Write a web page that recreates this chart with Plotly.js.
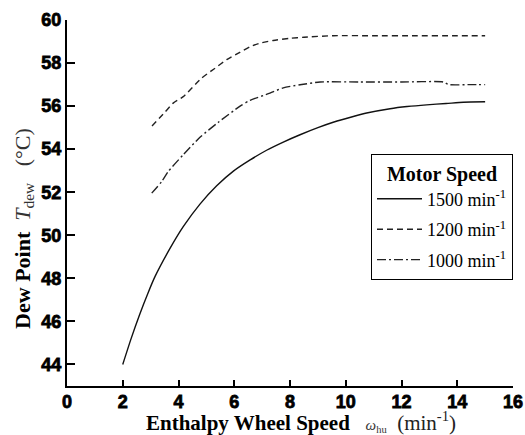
<!DOCTYPE html>
<html>
<head>
<meta charset="utf-8">
<script src="https://cdn.plot.ly/plotly-3.0.1.min.js"></script>
<style>html,body{margin:0;padding:0;background:#fff;}#chart{width:525px;height:435px;}</style>
</head>
<body>
<div id="chart"></div>
<script>
// Motor speed 1500 min^-1 (solid)
const x1500 = [2.0, 2.3, 2.6, 2.9, 3.16, 3.7, 4.17, 4.77, 5.37, 5.97, 6.57, 7.16, 7.76, 8.36, 9.0, 9.55, 10.27, 10.75, 11.59, 12.2, 12.9, 13.6, 14.22, 15.0];
const y1500 = [44.0, 45.2, 46.3, 47.3, 48.09, 49.4, 50.4, 51.45, 52.3, 52.98, 53.5, 53.95, 54.33, 54.67, 55.0, 55.25, 55.52, 55.68, 55.88, 55.98, 56.06, 56.12, 56.18, 56.2];
// Motor speed 1200 min^-1 (dashed, top curve)
const x1200 = [3.05, 3.5, 3.81, 4.17, 4.83, 5.3, 5.73, 6.2, 6.57, 7.0, 7.4, 8.0, 8.5, 9.55, 11.0, 12.5, 14.0, 15.0];
const y1200 = [55.08, 55.7, 56.14, 56.44, 57.3, 57.75, 58.16, 58.5, 58.76, 58.95, 59.05, 59.15, 59.2, 59.27, 59.27, 59.27, 59.27, 59.27];
// Motor speed 1000 min^-1 (dash-dot, middle curve)
const x1000 = [3.04, 3.4, 3.63, 4.17, 4.77, 5.43, 6.21, 6.57, 7.28, 7.76, 8.36, 9.08, 10.5, 12.0, 13.5, 13.7, 14.5, 15.0];
const y1000 = [51.96, 52.5, 52.96, 53.74, 54.55, 55.25, 56.0, 56.27, 56.6, 56.85, 56.99, 57.12, 57.12, 57.12, 57.12, 57.0, 57.0, 57.0];

const legendNames = ['1500 min<sup>-1</sup>', '1200 min<sup>-1</sup>', '1000 min<sup>-1</sup>'];
const xTicks = [0, 2, 4, 6, 8, 10, 12, 14, 16];
const yTicks = [44, 46, 48, 50, 52, 54, 56, 58, 60];

const serif = 'Liberation Serif, Times New Roman, serif';
const sans = 'Liberation Sans, Arial, sans-serif';

const traces = [
  {x: x1500, y: y1500, name: legendNames[0], legendgroup: 'a', mode: 'lines', line: {color: '#111', width: 1.4, shape: 'spline', smoothing: 0.6}},
  {x: x1200, y: y1200, name: legendNames[1], legendgroup: 'b', mode: 'lines', line: {color: '#222', width: 1.4, dash: '6px,4px', shape: 'spline', smoothing: 0.6}},
  {x: x1000, y: y1000, name: legendNames[2], legendgroup: 'c', mode: 'lines', line: {color: '#222', width: 1.4, dash: '9px,3px,2px,3px', shape: 'spline', smoothing: 0.6}}
];

const axisCommon = {
  showline: true, linecolor: '#000', linewidth: 2,
  ticks: 'inside', tickcolor: '#000', tickwidth: 2,
  showgrid: false, zeroline: false,
  tickfont: {family: sans, size: 18, color: '#000', weight: 'bold'}
};

const layout = {
  width: 525, height: 435,
  margin: {l: 67, r: 12, t: 20, b: 49},
  paper_bgcolor: '#fff', plot_bgcolor: '#fff',
  showlegend: true,
  legend: {
    x: 1, xanchor: 'right', y: 0.635, yanchor: 'top',
    bordercolor: '#000', borderwidth: 1, bgcolor: '#fff',
    itemwidth: 45,
    font: {family: serif, size: 18, color: '#000'},
    title: {text: '<b>Motor Speed</b>', side: 'top center', font: {family: serif, size: 20, color: '#000'}},
    tracegroupgap: 4
  },
  xaxis: Object.assign({}, axisCommon, {range: [0, 16], ticklen: 6, ticklabelstandoff: -2,
    tickvals: xTicks, ticktext: xTicks.map(String)}),
  yaxis: Object.assign({}, axisCommon, {range: [43, 60], ticklen: 8,
    tickvals: yTicks, ticktext: yTicks.map(String)}),
  annotations: [
    {xref: 'paper', yref: 'paper', x: 0.525, y: -0.098, xanchor: 'center', yanchor: 'middle', showarrow: false,
     text: '<b>Enthalpy Wheel Speed</b>&nbsp;&nbsp;&nbsp;<span style="font-size:15px;color:#333"><i>ω</i><sub>hu</sub></span>&nbsp;&nbsp;<span style="color:#222">(min<sup>-1</sup>)</span>',
     font: {family: serif, size: 21, color: '#000'}},
    {xref: 'paper', yref: 'paper', x: -0.098, y: 0.43, xanchor: 'center', yanchor: 'middle', showarrow: false, textangle: -90,
     text: '<b>Dew Point</b>&nbsp;&nbsp;<span style="color:#333"><i>T</i><sub>dew</sub>&nbsp;&nbsp;&nbsp;(°C)</span>',
     font: {family: serif, size: 22, color: '#000'}}
  ]
};

Plotly.newPlot('chart', traces, layout, {displayModeBar: false, staticPlot: true}).then(function () {
  document.querySelectorAll('.xtick text, .ytick text').forEach(function (t) {
    t.style.stroke = '#000';
    t.style.strokeWidth = '0.8px';
  });
});
</script>
</body>
</html>
